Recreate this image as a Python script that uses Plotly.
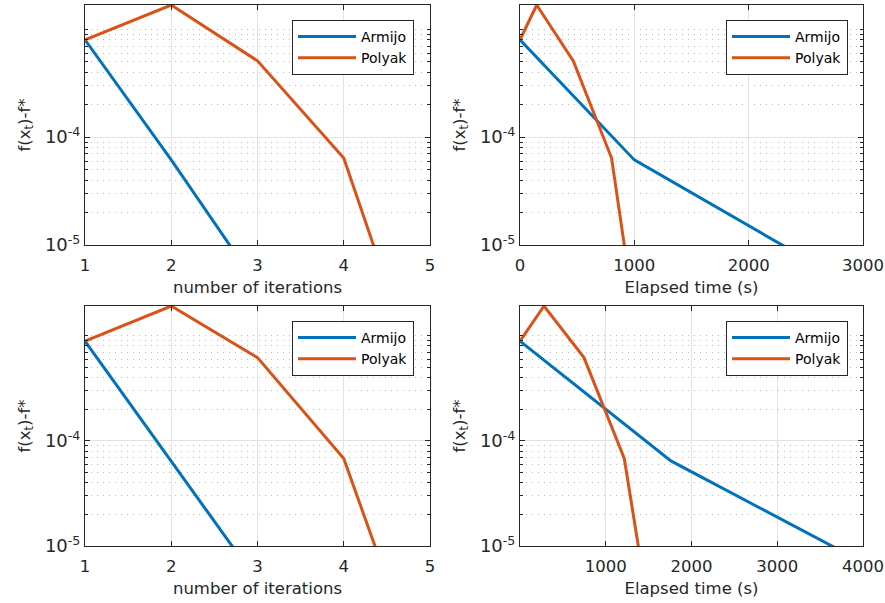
import math
import plotly.graph_objects as go

# ---- data ----
iters = [1, 2, 3, 4, 5]

armijo_top = [8.0e-4, 6.15e-5, 4.2e-6]
polyak_top = [8.0e-4, 1.68e-3, 5.1e-4, 6.4e-5, 2.9e-7]
armijo_time_top = [0, 1000, 2910]
polyak_time_top = [0, 146, 466, 801, 1124]

armijo_bot = [8.9e-4, 6.45e-5, 4.6e-6]
polyak_bot = [8.9e-4, 1.92e-3, 6.2e-4, 6.8e-5, 3.4e-7]
armijo_time_bot = [0, 1760, 4420]
polyak_time_bot = [0, 280, 746, 1216, 1669]

ytick_vals = [1e-5, 1e-4]
ytick_text = ["10<sup>-5</sup>", "10<sup>-4</sup>"]
yminor_vals = [m * 1e-5 for m in range(2, 10)] + [m * 1e-4 for m in range(2, 10)] + [1e-3]

xtick_iter = [1, 2, 3, 4, 5]
xtick_time_top = [0, 1000, 2000, 3000]
xtick_time_bot = [1000, 2000, 3000, 4000]

series_names = ["Armijo", "Polyak"]
colors = ["#0072BD", "#D95319"]

# ---- figure ----
W, H = 885, 603
FONT = "DejaVu Sans"
TXT = "#262626"

fig = go.Figure()

panels = [
    (iters[:len(armijo_top)], armijo_top, iters, polyak_top, "", "legend"),
    (armijo_time_top, armijo_top, polyak_time_top, polyak_top, "2", "legend2"),
    (iters[:len(armijo_bot)], armijo_bot, iters, polyak_bot, "3", "legend3"),
    (armijo_time_bot, armijo_bot, polyak_time_bot, polyak_bot, "4", "legend4"),
]

for xa, ya, xp, yp, sfx, lg in panels:
    for name, xs, ys, c in [(series_names[0], xa, ya, colors[0]), (series_names[1], xp, yp, colors[1])]:
        fig.add_trace(go.Scatter(
            x=xs, y=ys, mode="lines", name=name,
            line=dict(color=c, width=3),
            xaxis="x" + sfx, yaxis="y" + sfx, legend=lg,
        ))

def px_dom_x(a, b):
    return [a / W, b / W]

def px_dom_y(top, bottom):
    return [1 - bottom / H, 1 - top / H]

def xaxis(dom, rng, tickvals, title, anchor):
    return dict(
        domain=dom, range=rng, tickmode="array", tickvals=tickvals,
        showline=True, linecolor=TXT, linewidth=1, mirror="ticks",
        ticks="inside", ticklen=5, tickcolor=TXT,
        showgrid=True, gridcolor="#e3e3e3", gridwidth=1, zeroline=False,
        tickfont=dict(family=FONT, size=16.5, color=TXT),
        ticklabelstandoff=5,
        title=dict(text=title, font=dict(family=FONT, size=16.5, color=TXT), standoff=7),
        anchor=anchor, automargin=False,
    )

def yaxis(dom, ymax, anchor):
    return dict(
        domain=dom, type="log", range=[-5, math.log10(ymax)],
        tickmode="array", tickvals=ytick_vals, ticktext=ytick_text,
        showline=True, linecolor=TXT, linewidth=1, mirror="ticks",
        ticks="inside", ticklen=5, tickcolor=TXT,
        showgrid=True, gridcolor="#e3e3e3", gridwidth=1, zeroline=False,
        minor=dict(tickmode="array", tickvals=yminor_vals, showgrid=True,
                   griddash="1px,5px", gridcolor="#bcbcbc", gridwidth=1,
                   ticks="inside", ticklen=3, tickcolor=TXT),
        tickfont=dict(family=FONT, size=18, color=TXT),
        title=dict(text="f(x<sub>t</sub>)-f*", font=dict(family=FONT, size=16.5, color=TXT), standoff=10),
        anchor=anchor, automargin=False,
    )

xl = px_dom_x(85, 430)
xr = px_dom_x(520, 863)
yt = px_dom_y(5, 245)
yb = px_dom_y(306, 546)

def legend(right_px, top_px):
    return dict(
        x=right_px / W, y=1 - top_px / H, xanchor="right", yanchor="top",
        bgcolor="white", bordercolor=TXT, borderwidth=1,
        font=dict(family=FONT, size=14, color="black"),
        tracegroupgap=0, itemwidth=58,
    )

fig.update_layout(
    width=W, height=H,
    margin=dict(l=0, r=0, t=0, b=0, pad=0),
    paper_bgcolor="white", plot_bgcolor="white",
    showlegend=True,
    xaxis=xaxis(xl, [1, 5], xtick_iter, "number of iterations", "y"),
    yaxis=yaxis(yt, max(polyak_top), "x"),
    xaxis2=xaxis(xr, [0, 3000], xtick_time_top, "Elapsed time (s)", "y2"),
    yaxis2=yaxis(yt, max(polyak_top), "x2"),
    xaxis3=xaxis(xl, [1, 5], xtick_iter, "number of iterations", "y3"),
    yaxis3=yaxis(yb, max(polyak_bot), "x3"),
    xaxis4=xaxis(xr, [0, 4000], xtick_time_bot, "Elapsed time (s)", "y4"),
    yaxis4=yaxis(yb, max(polyak_bot), "x4"),
    legend=legend(414, 20),
    legend2=legend(848, 20),
    legend3=legend(414, 321),
    legend4=legend(848, 321),
)

fig.write_html(
    "out.html",
    config={"displayModeBar": False},
    post_script="document.body.style.margin='0';document.body.style.padding='0';"
                "document.documentElement.style.overflow='hidden';",
)
